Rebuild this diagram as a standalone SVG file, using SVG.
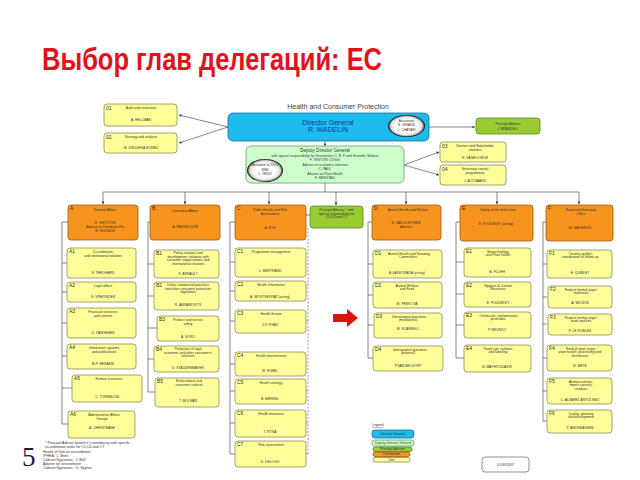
<svg xmlns="http://www.w3.org/2000/svg" width="640" height="480" viewBox="0 0 640 480">
<defs>
<style>
.u{fill:#ffff99;stroke:#8a8a55;stroke-width:0.8}
.d{fill:#f7941d;stroke:#9a5c12;stroke-width:0.8}
.pa{fill:#99cc33;stroke:#5a8a1a;stroke-width:0.8}
.ddg{fill:#ccffcc;stroke:#6a9a6a;stroke-width:0.8}
.dg{fill:#1cbcef;stroke:#1a6f96;stroke-width:0.8}
text{font-family:"Liberation Sans",Arial,sans-serif}
.t{font-size:3.4px;fill:#333;text-anchor:middle}
.c{font-size:5px;fill:#333}
.ln{stroke:#555;stroke-width:0.7;fill:none}
.dash{stroke:#777;stroke-width:0.7;fill:none;stroke-dasharray:2 1.5}
</style>
<marker id="ah" viewBox="0 0 6 6" refX="5.5" refY="3" markerWidth="4" markerHeight="4" orient="auto"><path d="M0,0L6,3L0,6Z" fill="#444"/></marker>
<radialGradient id="ov" cx="0.5" cy="0.5" r="0.5"><stop offset="0.6" stop-color="#fff"/><stop offset="0.85" stop-color="#ddd"/><stop offset="1" stop-color="#000"/></radialGradient>
</defs>
<rect width="640" height="480" fill="#fff"/>

<text x="42" y="70" font-size="31" font-weight="bold" fill="#e5101a" textLength="340" lengthAdjust="spacingAndGlyphs">Выбор глав делегаций: ЕС</text>

<text x="338" y="109" font-size="7" fill="#444" text-anchor="middle">Health and Consumer Protection</text>

<g id="connectors">
<path class="ln" d="M228,127L179,115" marker-end="url(#ah)"/>
<path class="ln" d="M228,127L179,143" marker-end="url(#ah)"/>
<path class="ln" d="M429,127L475,127" marker-end="url(#ah)"/>
<path class="ln" d="M325,141L325,146" marker-end="url(#ah)"/>
<path class="ln" d="M404,165L439,152" marker-end="url(#ah)"/>
<path class="ln" d="M404,165L439,175" marker-end="url(#ah)"/>
<path class="ln" d="M325,183L325,192M103,192L579,192"/>
<path class="ln" d="M103,192L103,204" marker-end="url(#ah)"/>
<path class="ln" d="M185,192L185,204" marker-end="url(#ah)"/>
<path class="ln" d="M269,192L269,204" marker-end="url(#ah)"/>
<path class="ln" d="M336,192L336,205" marker-end="url(#ah)"/>
<path class="ln" d="M406,192L406,204" marker-end="url(#ah)"/>
<path class="ln" d="M497,192L497,204" marker-end="url(#ah)"/>
<path class="ln" d="M579,192L579,204" marker-end="url(#ah)"/>
<path class="ln" d="M62,222V424M62,222H68M62,263H67M62,292H67M62,323H67M62,356H67M62,388H72M62,424H68"/>
<path class="ln" d="M148,222V392M148,222H150M148,264H154M148,296H154M148,328H157M148,359H154M148,392H155"/>
<path class="ln" d="M230,222V454M230,222H235M230,262H235M230,291H235M230,321H235M230,364H235M230,391H235M230,423H235M230,454H235"/>
<path class="ln" d="M368,222V358M368,222H372M368,264H373M368,295H373M368,325H373M368,358H373"/>
<path class="ln" d="M456,222V358M456,222H460M456,262H464M456,294H464M456,325H464M456,358H464"/>
<path class="ln" d="M543,222V421M543,222H546M543,264H547M543,297H547M543,324H547M543,358H547M543,391H547M543,421H547"/>
<path class="ln" d="M306,215H310"/>
<path class="dash" d="M308,228V455M308,321H306M308,391H306M308,423H306M308,454H306"/>
</g>

<g id="u01"><rect class="u" x="104" y="104" width="73" height="22" rx="3"/><text class="c" x="106" y="109.5" font-size="4">01</text><text class="t" x="141" y="109">Audit and evaluation</text><text class="t" x="141" y="121">A. HELLMAN</text></g>
<g id="u02"><rect class="u" x="104" y="133" width="73" height="20" rx="3"/><text class="c" x="106" y="138.5" font-size="4">02</text><text class="t" x="141" y="138">Strategy and analysis</text><text class="t" x="141" y="149">M. DRUGEKA ROMEZ</text></g>

<g id="dg"><rect class="dg" x="228" y="113" width="201" height="28" rx="5"/>
<text x="328" y="125" font-size="7" fill="#1a3a9a" text-anchor="middle">Director General</text>
<text x="328" y="132" font-size="7" fill="#1a3a9a" text-anchor="middle">R. MADELIN</text>
<ellipse cx="406.5" cy="126" rx="18.5" ry="11" fill="url(#ov)"/>
<text class="t" x="406.5" y="121.5" font-size="3">Assistants</text><text class="t" x="406.5" y="126" font-size="3">S. GIRAUD</text><text class="t" x="406.5" y="130.5" font-size="3">L. CHATAIN</text></g>

<g id="pa"><rect class="pa" x="476" y="118" width="64" height="16" rx="3"/><text class="t" x="508" y="125">Principal Adviser</text><text class="t" x="508" y="130">J. BRANDELL</text></g>

<g id="ddg"><rect class="ddg" x="246" y="146" width="158" height="37" rx="5"/>
<text x="325" y="152" font-size="4.6" fill="#333" text-anchor="middle">Deputy Director General</text>
<text class="t" x="325" y="156.5">with special responsibility for Directorates C, E, F and Scientific Matters</text>
<text class="t" x="325" y="161">F. TESTORI COGGI</text>
<text class="t" x="325" y="165.5">Advisor on economic interests</text>
<text class="t" x="325" y="170">C. PAUL</text>
<text class="t" x="325" y="174.5">Advisor on Plant Health</text>
<text class="t" x="325" y="179">F. BERGTAG</text>
<ellipse cx="265" cy="170.5" rx="18" ry="11.5" fill="url(#ov)"/>
<text class="t" x="265" y="165.5" font-size="2.6">Assistant to DDG</text><text class="t" x="265" y="170.5" font-size="3">SNE</text><text class="t" x="265" y="175" font-size="3">L. TERZI</text></g>

<g id="u03"><rect class="u" x="440" y="142" width="66" height="20" rx="3"/><text class="c" x="442" y="147.5" font-size="4">03</text><text class="t" x="475" y="147">Science and Stakeholder</text><text class="t" x="475" y="151">relations</text><text class="t" x="475" y="159">R. VANHOORDE</text></g>
<g id="u04"><rect class="u" x="440" y="165" width="66" height="20" rx="3"/><text class="c" x="442" y="170.5" font-size="4">04</text><text class="t" x="475" y="170">Veterinary control</text><text class="t" x="475" y="174">programmes</text><text class="t" x="475" y="182">J. ACOVAARD</text></g>

<g id="dA"><rect class="d" x="68" y="205" width="70" height="35" rx="3"/><text class="c" x="70" y="210">A</text><text class="t" x="105" y="211">General Affairs</text><text class="t" x="105" y="224">R. SHOTTON</text><text class="t" x="105" y="228">Advisor on Pandemic Flu</text><text class="t" x="105" y="232">M. HUDSON</text></g>
<g id="uA1"><rect class="u" x="67" y="248" width="69" height="30" rx="3"/><text class="c" x="69" y="253">A1</text><text class="t" x="103" y="253">Co-ordination</text><text class="t" x="103" y="257">and institutional relations</text><text class="t" x="103" y="274">S. THEOHARD</text></g>
<g id="uA2"><rect class="u" x="67" y="282" width="69" height="20" rx="3"/><text class="c" x="69" y="287">A2</text><text class="t" x="103" y="287">Legal affairs</text><text class="t" x="103" y="298">G. VRHONIDES</text></g>
<g id="uA3"><rect class="u" x="67" y="308" width="69" height="30" rx="3"/><text class="c" x="69" y="313">A3</text><text class="t" x="103" y="313">Financial resources</text><text class="t" x="103" y="317">and controls</text><text class="t" x="103" y="334">D. ZANGENES</text></g>
<g id="uA4"><rect class="u" x="67" y="344" width="69" height="25" rx="3"/><text class="c" x="69" y="349">A4</text><text class="t" x="104" y="349">Information systems</text><text class="t" x="104" y="353">and publications</text><text class="t" x="103" y="365">M-P. BENASSI</text></g>
<g id="uA5"><rect class="u" x="72" y="375" width="70" height="27" rx="3"/><text class="c" x="74" y="380">A5</text><text class="t" x="109" y="380">Human resources</text><text class="t" x="107" y="398">C. TÖRNBLOM</text></g>
<g id="uA6"><rect class="u" x="68" y="411" width="67" height="27" rx="3"/><text class="c" x="70" y="416">A6</text><text class="t" x="104" y="416">Administrative Affairs</text><text class="t" x="102" y="420">Grange</text><text class="t" x="102" y="429">A. CHRISTEANE</text></g>

<g id="dB"><rect class="d" x="150" y="205" width="70" height="35" rx="3"/><text class="c" x="152" y="210">B</text><text class="t" x="185" y="212">Consumer Affairs</text><text class="t" x="185" y="228">A. PANTELOURI</text></g>
<g id="uB1"><rect class="u" x="154" y="250" width="65" height="28" rx="3"/><text class="c" x="156" y="255">B1</text><text class="t" x="188" y="254">Policy analysis and</text><text class="t" x="188" y="257.5">development: relations with</text><text class="t" x="188" y="261">consumer organisations and</text><text class="t" x="188" y="264.5">international relations</text><text class="t" x="188" y="275">S. ARNAULT</text></g>
<g id="uB2"><rect class="u" x="154" y="282" width="65" height="28" rx="3"/><text class="c" x="156" y="287">B2</text><text class="t" x="188" y="286">Unfair commercial practices</text><text class="t" x="188" y="289.5">and other consumer protection</text><text class="t" x="188" y="293">legislation</text><text class="t" x="188" y="306">R. ABRAMOVITS</text></g>
<g id="uB3"><rect class="u" x="157" y="316" width="62" height="25" rx="3"/><text class="c" x="159" y="321">B3</text><text class="t" x="188" y="321">Product and service</text><text class="t" x="188" y="324.5">safety</text><text class="t" x="188" y="338">A. SORO</text></g>
<g id="uB4"><rect class="u" x="154" y="346" width="65" height="26" rx="3"/><text class="c" x="156" y="351">B4</text><text class="t" x="188" y="350">Protection of legal</text><text class="t" x="188" y="353.5">economic and other consumers'</text><text class="t" x="188" y="357">interests</text><text class="t" x="188" y="368.5">D. STAUDENMAYER</text></g>
<g id="uB5"><rect class="u" x="155" y="378" width="64" height="29" rx="3"/><text class="c" x="157" y="383">B5</text><text class="t" x="189" y="382">Enforcement and</text><text class="t" x="189" y="385.5">consumer redress</text><text class="t" x="188" y="402">T. MOLNAR</text></g>

<g id="dC"><rect class="d" x="235" y="205" width="71" height="35" rx="3"/><text class="c" x="237" y="210">C</text><text class="t" x="270" y="211">Public Health and Risk</text><text class="t" x="270" y="215">Assessment</text><text class="t" x="270" y="229">A. RYS</text></g>
<g id="uC1"><rect class="u" x="235" y="248" width="71" height="29" rx="3"/><text class="c" x="237" y="253">C1</text><text class="t" x="271" y="253">Programme management</text><text class="t" x="270" y="272">C. BERTRAND</text></g>
<g id="uC2"><rect class="u" x="235" y="281" width="71" height="20" rx="3"/><text class="c" x="237" y="286">C2</text><text class="t" x="271" y="285.5">Health Information</text><text class="t" x="270" y="298">A. MONTSERRAT (acting)</text></g>
<g id="uC3"><rect class="u" x="235" y="310" width="71" height="23" rx="3"/><text class="c" x="237" y="315">C3</text><text class="t" x="271" y="314.5">Health threats</text><text class="t" x="270" y="326">J.F. RYAN</text></g>
<g id="uC4"><rect class="u" x="235" y="352" width="71" height="24" rx="3"/><text class="c" x="237" y="357">C4</text><text class="t" x="271" y="356.5">Health determinants</text><text class="t" x="270" y="372">M. HUBEL</text></g>
<g id="uC5"><rect class="u" x="235" y="379" width="71" height="25" rx="3"/><text class="c" x="237" y="384">C5</text><text class="t" x="271" y="383.5">Health strategy</text><text class="t" x="270" y="400">B. MERKEL</text></g>
<g id="uC6"><rect class="u" x="235" y="410" width="71" height="27" rx="3"/><text class="c" x="237" y="415">C6</text><text class="t" x="271" y="414.5">Health measures</text><text class="t" x="270" y="433">T. RYNA</text></g>
<g id="uC7"><rect class="u" x="235" y="441" width="71" height="26" rx="3"/><text class="c" x="237" y="446">C7</text><text class="t" x="271" y="445.5">Risk assessment</text><text class="t" x="270" y="463">D. DELOGU</text></g>

<g id="paC"><rect class="pa" x="310" y="206" width="53" height="22" rx="3"/><text class="t" x="336.5" y="211">Principal Adviser * with</text><text class="t" x="336.5" y="214.5">special responsibility for</text><text class="t" x="336.5" y="218">C5,C6 and C7</text></g>

<g id="dD"><rect class="d" x="372" y="205" width="69" height="35" rx="3"/><text class="c" x="374" y="210">D</text><text class="t" x="408" y="211">Animal Health and Welfare</text><text class="t" x="406" y="224">B. VAN GOETHEM</text><text class="t" x="406" y="228">Adviser</text></g>
<g id="uD1"><rect class="u" x="373" y="250" width="69" height="28" rx="3"/><text class="c" x="375" y="255">D1</text><text class="t" x="409" y="254.5">Animal Health and Standing</text><text class="t" x="408" y="258">Committees</text><text class="t" x="407" y="274">A.LASSORADA (acting)</text></g>
<g id="uD2"><rect class="u" x="373" y="282" width="69" height="26" rx="3"/><text class="c" x="375" y="287">D2</text><text class="t" x="407" y="286.5">Animal Welfare</text><text class="t" x="407" y="290">and Feed</text><text class="t" x="407" y="304.5">M. PENKOVA</text></g>
<g id="uD3"><rect class="u" x="374" y="313" width="68" height="25" rx="3"/><text class="c" x="376" y="318">D3</text><text class="t" x="409" y="317.5">International questions</text><text class="t" x="408" y="321">(multilateral)</text><text class="t" x="408" y="330">M. SCANNELL</text></g>
<g id="uD4"><rect class="u" x="373" y="346" width="70" height="25" rx="3"/><text class="c" x="375" y="351">D4</text><text class="t" x="410" y="350.5">International questions</text><text class="t" x="408" y="354">(bilateral)</text><text class="t" x="408" y="367">P.VAN BELDORP</text></g>

<g id="dE"><rect class="d" x="460" y="205" width="73" height="36" rx="3"/><text class="c" x="462" y="210">E</text><text class="t" x="498" y="211">Safety of the food chain</text><text class="t" x="496" y="225">E. POUDELET (acting)</text></g>
<g id="uE1"><rect class="u" x="464" y="248" width="67" height="29" rx="3"/><text class="c" x="466" y="253">E1</text><text class="t" x="498" y="252.5">Biotechnology</text><text class="t" x="498" y="256">and Plant health</text><text class="t" x="497" y="273">M. FLUEH</text></g>
<g id="uE2"><rect class="u" x="464" y="282" width="67" height="25" rx="3"/><text class="c" x="466" y="287">E2</text><text class="t" x="498" y="286.5">Hygiene &amp; Control</text><text class="t" x="498" y="290">Measures</text><text class="t" x="498" y="303.5">E. POUDELET</text></g>
<g id="uE3"><rect class="u" x="464" y="312" width="67" height="26" rx="3"/><text class="c" x="466" y="317">E3</text><text class="t" x="499" y="316.5">Chemicals, contaminants,</text><text class="t" x="498" y="320">pesticides</text><text class="t" x="497" y="331">P. BRUNKO</text></g>
<g id="uE4"><rect class="u" x="464" y="345" width="67" height="27" rx="3"/><text class="c" x="466" y="350">E4</text><text class="t" x="498" y="349.5">Food Law, nutrition</text><text class="t" x="498" y="353">and labelling</text><text class="t" x="497" y="367.5">B. MATHIOUDAKIS</text></g>

<g id="dF"><rect class="d" x="546" y="205" width="67" height="36" rx="3"/><text class="c" x="548" y="210">F</text><text class="t" x="581" y="211">Food and Veterinary</text><text class="t" x="581" y="215">Office</text><text class="t" x="580" y="229">M. GAVINSON</text></g>
<g id="uF1"><rect class="u" x="547" y="250" width="65" height="28" rx="3"/><text class="c" x="549" y="255">F1</text><text class="t" x="581" y="254.5">Country profiles,</text><text class="t" x="580" y="258">coordination of follow-up</text><text class="t" x="580" y="274">H. QUIBLEY</text></g>
<g id="uF2"><rect class="u" x="548" y="286" width="64" height="22" rx="3"/><text class="c" x="550" y="291">F2</text><text class="t" x="581" y="290.5">Food of animal origin:</text><text class="t" x="581" y="294">mammals</text><text class="t" x="580" y="304">A. WILSON</text></g>
<g id="uF3"><rect class="u" x="548" y="314" width="64" height="21" rx="3"/><text class="c" x="550" y="319">F3</text><text class="t" x="581" y="318.5">Food of animal origin:</text><text class="t" x="581" y="322">birds and fish</text><text class="t" x="580" y="332">F. LE ROBLES</text></g>
<g id="uF4"><rect class="u" x="547" y="345" width="65" height="26" rx="3"/><text class="c" x="549" y="350">F4</text><text class="t" x="581" y="349.5">Food of plant origin,</text><text class="t" x="580" y="353">plant health: processing and</text><text class="t" x="580" y="356.5">distribution</text><text class="t" x="580" y="367">N. METE</text></g>
<g id="uF5"><rect class="u" x="547" y="378" width="65" height="26" rx="3"/><text class="c" x="549" y="383">F5</text><text class="t" x="581" y="382.5">Animal nutrition,</text><text class="t" x="581" y="386">import controls,</text><text class="t" x="581" y="389.5">residues</text><text class="t" x="580" y="401">C. ALVAREZ ANTOLINEZ</text></g>
<g id="uF6"><rect class="u" x="547" y="410" width="65" height="23" rx="3"/><text class="c" x="549" y="415">F6</text><text class="t" x="581" y="414.5">Quality, planning</text><text class="t" x="581" y="418">and development</text><text class="t" x="580" y="429">P. ANDREASSEN</text></g>

<path id="redarrow" d="M333,314H347V309L358,318L347,327V322H333Z" fill="#e01010"/>

<g id="legend">
<text x="372" y="426" font-size="3.4" fill="#333" text-decoration="underline">Legend</text>
<rect class="dg" x="372" y="430" width="42" height="8" rx="3"/><text class="t" x="393" y="435.2">Director General</text>
<rect class="ddg" x="372" y="440" width="42" height="6" rx="2.5"/><text class="t" x="393" y="444.2">Deputy Director General</text>
<rect class="pa" x="373" y="447" width="39" height="4.5" rx="2"/><text class="t" x="392.5" y="450.4" font-size="3">Principal Adviser</text>
<rect class="d" x="373" y="452" width="37" height="4.5" rx="2"/><text class="t" x="391.5" y="455.4" font-size="3">Directorate</text>
<rect class="u" x="373" y="457.5" width="37" height="4.5" rx="2"/><text class="t" x="391.5" y="460.9" font-size="3">Unit</text>
</g>
<g id="date"><rect x="482" y="457" width="47" height="15" rx="3" fill="#fff" stroke="#777" stroke-width="0.8"/><text class="t" x="505.5" y="466">01/09/2007</text></g>

<text x="22" y="466" font-size="27" fill="#1a1a4a" style="font-family:'Liberation Serif',serif">5</text>
<g id="footnote" font-size="3.6" fill="#333">
<text x="45" y="444">* Principal Adviser based in Luxembourg with specific</text>
<text x="45" y="448">co-ordination tasks for C5,C6 and C7</text>
<text x="43" y="453">Heads of Unit on secondment:</text>
<text x="43" y="457">IPHEA : L. Brini</text>
<text x="43" y="461">Cabinet Kyprianou : J. Bell</text>
<text x="43" y="465">Adviser on secondment:</text>
<text x="43" y="469">Cabinet Kyprianou : G. Spyrou</text>
</g>
</svg>
